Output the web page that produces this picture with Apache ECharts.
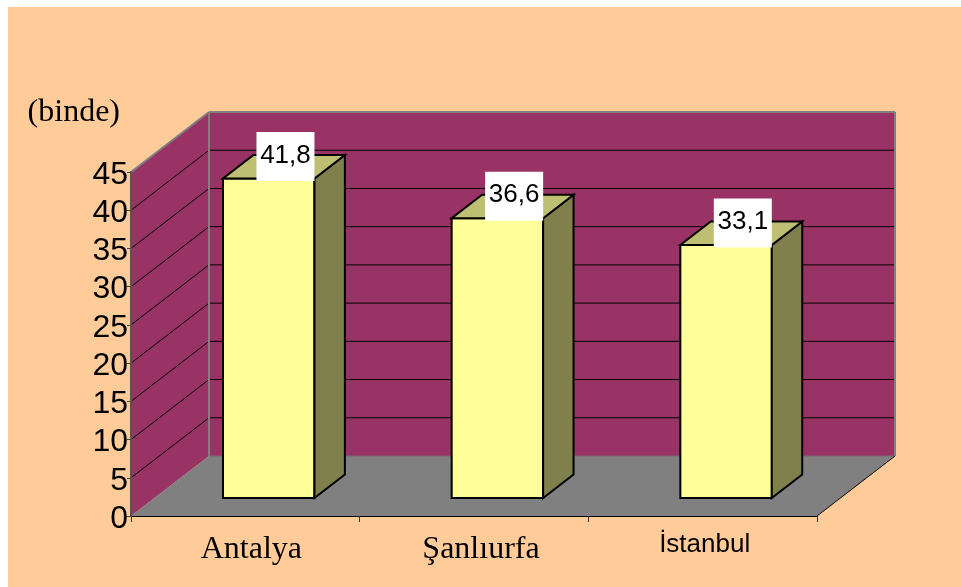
<!DOCTYPE html>
<html><head><meta charset="utf-8">
<style>html,body{margin:0;padding:0;background:#fff}#c{width:961px;height:587px}</style>
<script src="https://cdn.jsdelivr.net/npm/echarts@6/dist/echarts.min.js"></script>
</head><body><div id="c"></div>
<script>
var categories = ['Antalya', 'Şanlıurfa', 'İstanbul'];
var values = [41.8, 36.6, 33.1];
var yTicks = [5, 10, 15, 20, 25, 30, 35, 40];
var unitLabel = '(binde)';

var DX = 78, DY = -60;           // oblique depth of the plot box
var NEAR = 0.3, FAR = 0.69;      // bar depth as a share of the box depth
var chart = echarts.init(document.getElementById('c'), null, {renderer: 'canvas'});

function shift(p, t) { return [p[0] + DX * t, p[1] + DY * t]; }
function poly(points, fill, stroke, w) {
  return {type: 'polygon', shape: {points: points},
    style: {fill: fill, stroke: stroke || null, lineWidth: w || 0, lineJoin: 'miter'}};
}
function line(a, b, color, w) {
  return {type: 'line', shape: {x1: a[0], y1: a[1], x2: b[0], y2: b[1]},
    style: {stroke: color, lineWidth: w, fill: null}};
}

function renderBox(params, api) {
  var band = api.size([1, 0])[0];
  var xL = api.coord([0, 0])[0] - band / 2;
  var xR = xL + band * categories.length;
  var y0 = api.coord([0, 0])[1], yT = api.coord([0, 45])[1];
  var a = [xL, y0], b = [xR, y0], c = [xL, yT], d = [xR, yT];
  var kids = [
    poly([shift(a, 1), shift(b, 1), shift(d, 1), shift(c, 1)], '#993366'),
    poly([a, shift(a, 1), shift(c, 1), c], '#993366'),
    poly([a, b, shift(b, 1), shift(a, 1)], '#808080')
  ];
  yTicks.forEach(function (v) {
    var y = api.coord([0, v])[1];
    kids.push(line([xL, y], shift([xL, y], 1), '#000', 1));
    kids.push(line(shift([xL, y], 1), shift([xR, y], 1), '#000', 1));
  });
  var grey = '#808080';
  kids.push(line(c, shift(c, 1), grey, 2));
  kids.push(line(shift(c, 1), shift(d, 1), grey, 2));
  kids.push(line(shift(a, 1), shift(c, 1), grey, 2));
  kids.push(line(shift(b, 1), shift(d, 1), grey, 2));
  kids.push(line(shift(a, 1), shift(b, 1), '#7a6a70', 1));
  kids.push(line(b, shift(b, 1), '#000', 1));
  return {type: 'group', children: kids};
}

function renderBar(params, api) {
  var i = api.value(0), v = api.value(1);
  var w = api.size([1, 0])[0] * 0.4;
  var base = api.coord([i, 0]), top = api.coord([i, v]);
  var l = base[0] - w / 2, r = base[0] + w / 2;
  var fb = shift([l, base[1]], NEAR), gb = shift([r, base[1]], NEAR);
  var ft = shift([l, top[1]], NEAR), gt = shift([r, top[1]], NEAR);
  var d = FAR - NEAR;
  var boxW = 58, boxH = 49;
  var cy = gt[1] - 22;
  return {type: 'group', children: [
    poly([fb, gb, gt, ft], '#FFFF99', '#000', 2),
    poly([gb, shift(gb, d), shift(gt, d), gt], '#80804D', '#000', 2),
    poly([ft, gt, shift(gt, d), shift(ft, d)], '#BFBF73', '#000', 2),
    {type: 'rect', shape: {x: gt[0] - boxW, y: cy - boxH / 2, width: boxW, height: boxH}, style: {fill: '#fff'}},
    {type: 'text', style: {x: gt[0] - boxW / 2, y: cy - 1, text: String(v).replace('.', ','),
      fill: '#000', font: '26px "Liberation Sans", Arial, sans-serif', align: 'center', verticalAlign: 'middle'}}
  ]};
}

chart.setOption({
  animation: false,
  backgroundColor: 'transparent',
  graphic: [{type: 'rect', z: -10, silent: true, shape: {x: 8, y: 7, width: 953, height: 580}, style: {fill: '#FFCC99'}}],
  grid: {left: 131, top: 172, width: 686, height: 344, containLabel: false},
  xAxis: {
    type: 'category', data: categories, z: 3,
    axisLine: {show: true, lineStyle: {color: '#000', width: 1}},
    axisTick: {show: true, alignWithLabel: false, length: 6, lineStyle: {color: '#333', width: 1}},
    axisLabel: {
      margin: 16, color: '#000', interval: 0,
      formatter: function (s, i) { return '{c' + i + '|' + s + '}'; },
      rich: {
        c0: {fontFamily: 'Liberation Serif', fontSize: 32, padding: [0, 0, 0, 12], lineHeight: 36, color: '#000'},
        c1: {fontFamily: 'Liberation Serif', fontSize: 32, padding: [0, 0, 0, 14], lineHeight: 36, color: '#000'},
        c2: {fontFamily: 'Liberation Sans', fontSize: 26, padding: [0, 0, 0, 4], lineHeight: 26, color: '#000'}
      }
    },
    splitLine: {show: false}
  },
  yAxis: {
    type: 'value', min: 0, max: 45, interval: 5, z: 3,
    name: unitLabel, nameLocation: 'end', nameGap: 43,
    nameTextStyle: {fontFamily: 'Liberation Serif', fontSize: 32, color: '#000', align: 'right', padding: [0, 11, 0, 0]},
    axisLine: {show: true, lineStyle: {color: '#555', width: 2}},
    axisTick: {show: true, length: 4, lineStyle: {color: '#444', width: 1}},
    axisLabel: {
      margin: 3, color: '#000', showMinLabel: true, showMaxLabel: true,
      formatter: function (v) { return '{v|' + v + '}'; },
      rich: {v: {fontFamily: 'Liberation Sans', fontSize: 32, lineHeight: 28, padding: [6, 0, 0, 0], color: '#000'}}
    },
    splitLine: {show: false}
  },
  series: [
    {type: 'custom', z: 1, silent: true, renderItem: renderBox, data: [[0, 0]], clip: false},
    {type: 'custom', z: 5, silent: true, renderItem: renderBar, clip: false,
      data: values.map(function (v, i) { return [i, v]; })}
  ]
});
</script></body></html>
